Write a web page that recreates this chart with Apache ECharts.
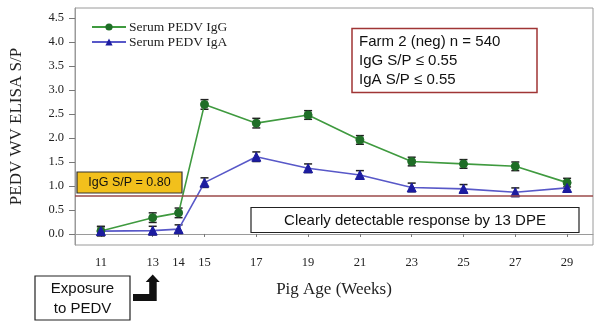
<!DOCTYPE html>
<html>
<head>
<meta charset="utf-8">
<script src="https://cdn.jsdelivr.net/npm/echarts@6/dist/echarts.min.js"></script>
<style>
  html, body { margin: 0; padding: 0; background: #fff; }
  #chart { width: 598px; height: 326px; }
</style>
</head>
<body>
<div id="chart"></div>
<script>
// Pig age in weeks at each sampling
const weeks = [11, 13, 14, 15, 17, 19, 21, 23, 25, 27, 29];
// Mean serum ELISA S/P values
const igG = [0.06, 0.34, 0.44, 2.70, 2.31, 2.48, 1.96, 1.51, 1.46, 1.41, 1.07];
const igA = [0.06, 0.07, 0.10, 1.07, 1.61, 1.37, 1.23, 0.97, 0.94, 0.87, 0.96];
// Error bar half-widths
const igGErr = [0.10, 0.10, 0.10, 0.10, 0.10, 0.09, 0.09, 0.09, 0.09, 0.09, 0.09];
const igAErr = [0.09, 0.09, 0.09, 0.10, 0.10, 0.09, 0.09, 0.09, 0.09, 0.09, 0.09];
// Axis tick labels
const xTicks = [11, 13, 14, 15, 17, 19, 21, 23, 25, 27, 29];
const yTicks = [0, 0.5, 1, 1.5, 2, 2.5, 3, 3.5, 4, 4.5];
const cutoff = 0.80;

const serif = 'Liberation Serif';
const sans = 'Liberation Sans';

function pairs(vals) { return weeks.map((w, i) => [w, vals[i]]); }
function errData(vals, errs) { return weeks.map((w, i) => [w, vals[i] - errs[i], vals[i] + errs[i]]); }

function errorBars(params, api) {
  const x = api.value(0);
  const lo = api.coord([x, api.value(1)]);
  const hi = api.coord([x, api.value(2)]);
  const hw = 4;
  const style = { stroke: '#222', lineWidth: 1.5 };
  return {
    type: 'group',
    children: [
      { type: 'line', shape: { x1: lo[0], y1: lo[1], x2: hi[0], y2: hi[1] }, style },
      { type: 'line', shape: { x1: lo[0] - hw, y1: lo[1], x2: lo[0] + hw, y2: lo[1] }, style },
      { type: 'line', shape: { x1: hi[0] - hw, y1: hi[1], x2: hi[0] + hw, y2: hi[1] }, style }
    ]
  };
}

const chart = echarts.init(document.getElementById('chart'));

const option = {
  animation: false,
  backgroundColor: '#fff',
  grid: { left: 73, top: 8, right: 5, bottom: 81, show: true, borderColor: '#9a9a9a', borderWidth: 1 },
  legend: {
    orient: 'vertical',
    left: 86, top: 15,
    itemWidth: 34, itemHeight: 9, itemGap: 1,
    data: ['Serum PEDV IgG', 'Serum PEDV IgA'],
    textStyle: { fontFamily: serif, fontSize: 13.5, color: '#222', padding: [0, 0, 0, -2] }
  },
  xAxis: {
    type: 'value', min: 10, max: 30,
    name: 'Pig Age (Weeks)', nameLocation: 'middle', nameGap: 36,
    nameTextStyle: { fontFamily: serif, fontSize: 17, color: '#222' },
    axisLine: { show: true, lineStyle: { color: '#9a9a9a' } },
    axisTick: { show: true, length: 3, customValues: xTicks, lineStyle: { color: '#777' } },
    axisLabel: { customValues: xTicks, fontFamily: serif, fontSize: 12.5, color: '#222', margin: 11 },
    splitLine: { show: false }
  },
  yAxis: {
    type: 'value', min: -0.23, max: 4.71,
    name: 'PEDV WV ELISA S/P', nameLocation: 'middle', nameGap: 50,
    nameTextStyle: { fontFamily: serif, fontSize: 17, color: '#222' },
    axisLine: { show: true, lineStyle: { color: '#9a9a9a' } },
    axisTick: { show: true, length: 6, customValues: yTicks, lineStyle: { color: '#777' } },
    axisLabel: { customValues: yTicks, fontFamily: serif, fontSize: 12.5, color: '#222', margin: 11,
                 formatter: v => v.toFixed(1) },
    splitLine: { show: false }
  },
  series: [
    {
      type: 'custom', name: 'IgG error', renderItem: errorBars, z: 2,
      data: errData(igG, igGErr), encode: { x: 0, y: [1, 2] }, silent: true
    },
    {
      type: 'custom', name: 'IgA error', renderItem: errorBars, z: 2,
      data: errData(igA, igAErr), encode: { x: 0, y: [1, 2] }, silent: true
    },
    {
      type: 'line', name: 'Serum PEDV IgG', data: pairs(igG), z: 3,
      symbol: 'circle', symbolSize: 8,
      lineStyle: { color: '#3f9a3f', width: 1.6 },
      itemStyle: { color: '#1f6e27', borderColor: '#1f6e27' },
      markLine: {
        silent: true, symbol: 'none', label: { show: false },
        lineStyle: { color: '#9b4a4a', width: 1.6, type: 'solid' },
        data: [{ yAxis: cutoff }]
      }
    },
    {
      type: 'line', name: 'Serum PEDV IgA', data: pairs(igA), z: 3,
      symbol: 'triangle', symbolSize: 9,
      lineStyle: { color: '#5858c8', width: 1.6 },
      itemStyle: { color: '#1c1ca0', borderColor: '#1c1ca0' }
    }
  ]
};
chart.setOption(option);

// Annotation boxes and the exposure arrow
const tipX = chart.convertToPixel({ xAxisIndex: 0 }, 13);
const textStyle = (extra) => Object.assign({ fontFamily: sans, fill: '#111' }, extra);

chart.setOption({
  graphic: [
    { type: 'rect', shape: { x: 352, y: 28.5, width: 185, height: 64 },
      style: { fill: '#fff', stroke: '#a03535', lineWidth: 1.5 }, z: 10 },
    { type: 'text', left: 359, top: 32, z: 11,
      style: textStyle({ text: 'Farm 2 (neg) n = 540\nIgG S/P ≤ 0.55\nIgA S/P ≤ 0.55', fontSize: 15, lineHeight: 19 }) },

    { type: 'rect', shape: { x: 77, y: 172, width: 105, height: 21 },
      style: { fill: '#f2c01c', stroke: '#333', lineWidth: 1.2 }, z: 10 },
    { type: 'text', x: 129.5, y: 182.5, z: 11,
      style: textStyle({ text: 'IgG S/P = 0.80', fontSize: 12.5, align: 'center', verticalAlign: 'middle' }) },

    { type: 'rect', shape: { x: 251, y: 207.5, width: 328, height: 25 },
      style: { fill: '#fff', stroke: '#222', lineWidth: 1.2 }, z: 10 },
    { type: 'text', x: 415, y: 220.5, z: 11,
      style: textStyle({ text: 'Clearly detectable response by 13 DPE', fontSize: 15, align: 'center', verticalAlign: 'middle' }) },

    { type: 'rect', shape: { x: 35, y: 276, width: 95, height: 44 },
      style: { fill: '#fff', stroke: '#222', lineWidth: 1.2 }, z: 10 },
    { type: 'text', x: 82.5, y: 298.5, z: 11,
      style: textStyle({ text: 'Exposure\nto PEDV', fontSize: 15, lineHeight: 20, align: 'center', verticalAlign: 'middle' }) },

    { type: 'polygon', z: 10,
      shape: { points: [
        [133, 294], [tipX - 3.5, 294], [tipX - 3.5, 282], [tipX - 7, 282],
        [tipX, 274.5], [tipX + 7, 282], [tipX + 4, 282], [tipX + 4, 301], [133, 301]
      ] },
      style: { fill: '#111' } }
  ]
});
</script>
</body>
</html>
